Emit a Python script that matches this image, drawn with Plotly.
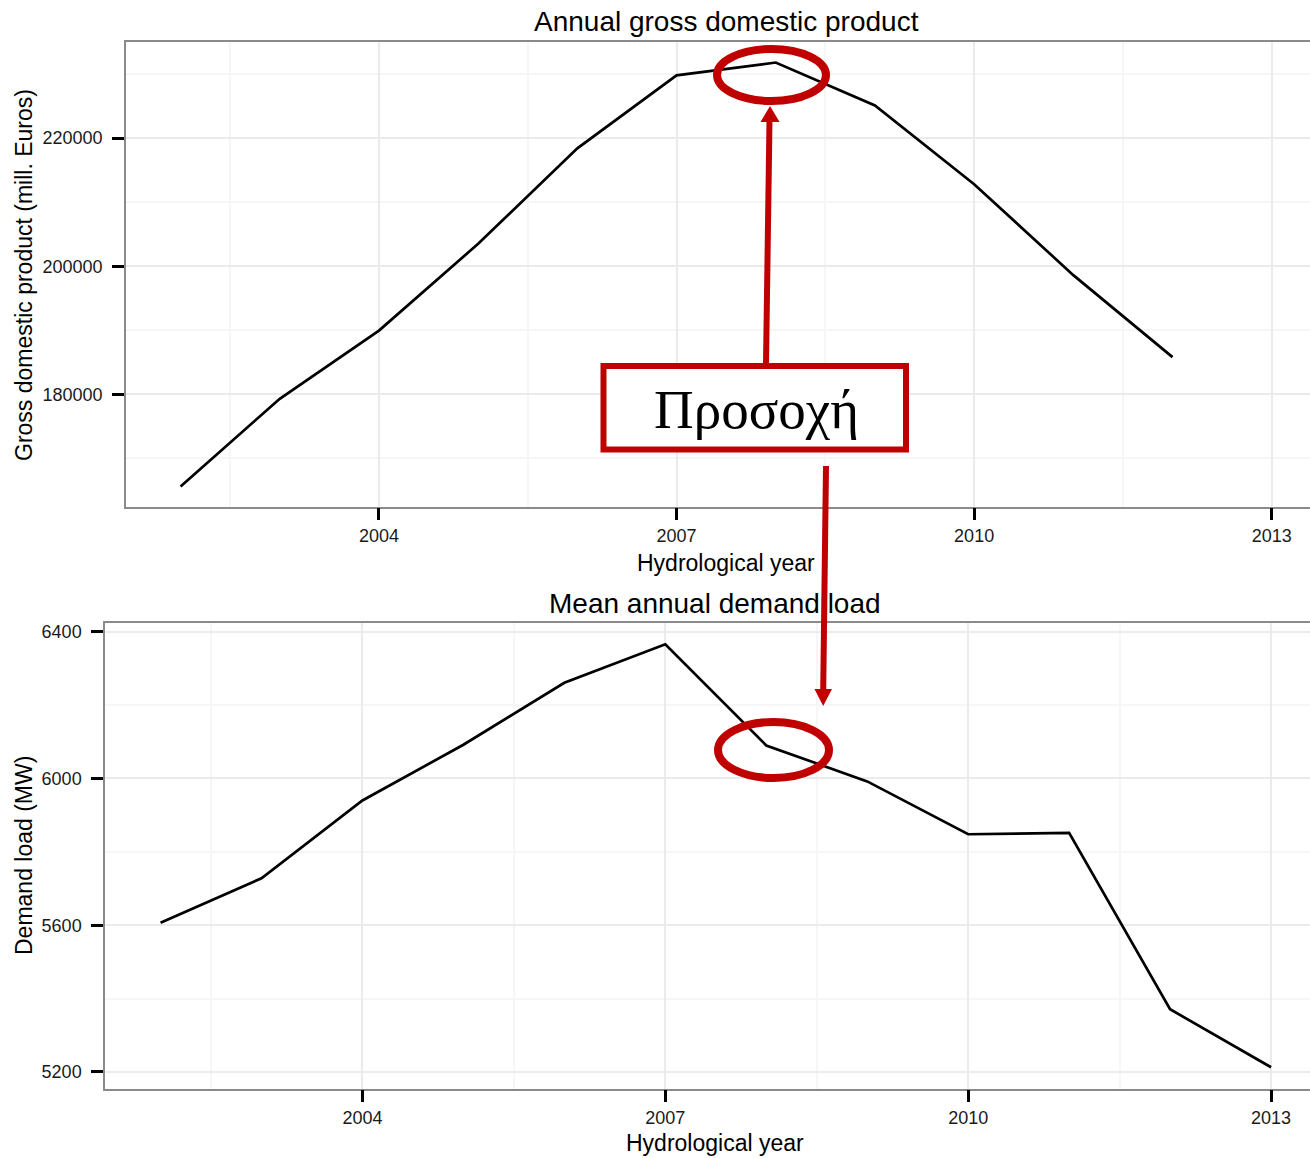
import plotly.graph_objects as go

# ---- data -------------------------------------------------------------
gdp_years = [2002, 2003, 2004, 2005, 2006, 2007, 2008, 2009, 2010, 2011, 2012]
gdp_values = [165600, 179300, 189950, 203500, 218400, 229800, 231800,
              225100, 212800, 198600, 185800]

load_years = [2002, 2003, 2004, 2005, 2006, 2007, 2008, 2009, 2010, 2011, 2012, 2013]
load_values = [5607, 5728, 5940, 6092, 6261, 6366, 6090, 5992, 5848, 5852, 5371, 5213]

x_ticks = [2004, 2007, 2010, 2013]
x_minor = [2002.5, 2005.5, 2008.5, 2011.5]
gdp_ticks = [180000, 200000, 220000]
gdp_minor = [170000, 190000, 210000, 230000]
load_ticks = [5200, 5600, 6000, 6400]
load_minor = [5400, 5800, 6200]

top_title = "Annual gross domestic product"
bottom_title = "Mean annual demand load"
x_label = "Hydrological year"
gdp_label = "Gross domestic product (mill. Euros)"
load_label = "Demand load (MW)"
warning_text = "Προσοχή"

# ---- page geometry ----------------------------------------------------
W, H = 1310, 1158


def px(x):
    return x / W


def py(y):
    return 1 - y / H


FONT = "Liberation Sans, Arial, Helvetica, sans-serif"
RED = "#C00000"
GRID = "#ebebeb"
GRID_MINOR = "#f6f6f6"
BORDER = "#8a8a8a"
TEXT = "#1a1a1a"

fig = go.Figure()
fig.add_trace(go.Scatter(x=gdp_years, y=gdp_values, mode="lines",
                         line=dict(color="black", width=2.7),
                         xaxis="x", yaxis="y", showlegend=False))
fig.add_trace(go.Scatter(x=load_years, y=load_values, mode="lines",
                         line=dict(color="black", width=2.7),
                         xaxis="x2", yaxis="y2", showlegend=False))


def x_axis(domain_left, anchor):
    return dict(domain=[px(domain_left), 1], anchor=anchor,
                range=[2001.45, 2013.386], tickvals=x_ticks,
                ticktext=[str(v) for v in x_ticks],
                showgrid=True, gridcolor=GRID, gridwidth=1.5,
                minor=dict(tickvals=x_minor, showgrid=True,
                           gridcolor=GRID_MINOR, gridwidth=1.5),
                showline=True, linecolor=BORDER, linewidth=1.5, mirror=True,
                ticks="outside", ticklen=12, tickwidth=2.5, tickcolor="black",
                tickfont=dict(family=FONT, size=18, color=TEXT),
                zeroline=False)


def y_axis(domain, rng, ticks, minor, anchor):
    return dict(domain=domain, anchor=anchor, range=rng, tickvals=ticks,
                ticktext=[str(v) for v in ticks],
                showgrid=True, gridcolor=GRID, gridwidth=1.5,
                minor=dict(tickvals=minor, showgrid=True,
                           gridcolor=GRID_MINOR, gridwidth=1.5),
                showline=True, linecolor=BORDER, linewidth=1.5,
                ticks="outside", ticklen=12, tickwidth=2.5, tickcolor="black",
                ticklabelstandoff=6,
                tickfont=dict(family=FONT, size=18, color=TEXT),
                zeroline=False)


fig.update_layout(
    width=W, height=H,
    margin=dict(l=0, r=0, t=0, b=0),
    paper_bgcolor="white", plot_bgcolor="white",
    xaxis=x_axis(126, "y"),
    yaxis=y_axis([py(506.7), py(41.7)], [162450, 235050], gdp_ticks, gdp_minor, "x"),
    xaxis2=x_axis(105, "y2"),
    yaxis2=y_axis([py(1088.5), py(623.3)], [5155, 6423], load_ticks, load_minor, "x2"),
)

# ---- titles -----------------------------------------------------------
texts = [
    (top_title, 726, 22, 28, 0),
    (bottom_title, 715, 603, 28, 0),
    (x_label, 726, 563, 23, 0),
    (x_label, 715, 1143, 23, 0),
    (gdp_label, 24, 275, 23, -90),
    (load_label, 24, 856, 23, -90),
]
for txt, x, y, size, angle in texts:
    fig.add_annotation(text=txt, x=px(x), y=py(y), xref="paper", yref="paper",
                       xanchor="center", yanchor="middle", showarrow=False,
                       textangle=angle, font=dict(family=FONT, size=size, color="black"))

# ---- red call-outs ----------------------------------------------------
shapes = []
# ellipses around the two highlighted points
shapes.append(dict(type="circle", xref="paper", yref="paper",
                   x0=px(717), x1=px(826), y0=py(49), y1=py(101),
                   line=dict(color=RED, width=8)))
shapes.append(dict(type="circle", xref="paper", yref="paper",
                   x0=px(718), x1=px(829), y0=py(722), y1=py(778),
                   line=dict(color=RED, width=8)))
# arrow up to the GDP peak
shapes.append(dict(type="line", xref="paper", yref="paper",
                   x0=px(766), y0=py(364), x1=px(769.5), y1=py(120),
                   line=dict(color=RED, width=6)))
shapes.append(dict(type="path", xref="paper", yref="paper",
                   path=f"M {px(760.5)} {py(122)} L {px(779.5)} {py(122)} "
                        f"L {px(770)} {py(106)} Z",
                   fillcolor=RED, line=dict(color=RED, width=0)))
# arrow down to the demand-load point
shapes.append(dict(type="line", xref="paper", yref="paper",
                   x0=px(826), y0=py(466), x1=px(823.2), y1=py(691),
                   line=dict(color=RED, width=6)))
shapes.append(dict(type="path", xref="paper", yref="paper",
                   path=f"M {px(814.5)} {py(689)} L {px(832)} {py(689)} "
                        f"L {px(823.2)} {py(706)} Z",
                   fillcolor=RED, line=dict(color=RED, width=0)))
# warning box
shapes.append(dict(type="rect", xref="paper", yref="paper",
                   x0=px(603.5), x1=px(906), y0=py(449.5), y1=py(366),
                   fillcolor="white", line=dict(color=RED, width=6)))
fig.update_layout(shapes=shapes)

fig.add_annotation(text=warning_text, x=px(756), y=py(409), xref="paper", yref="paper",
                   xanchor="center", yanchor="middle", showarrow=False,
                   font=dict(family="Liberation Serif, Times New Roman, serif",
                             size=55, color="black"))

fig.write_html("out.html")
